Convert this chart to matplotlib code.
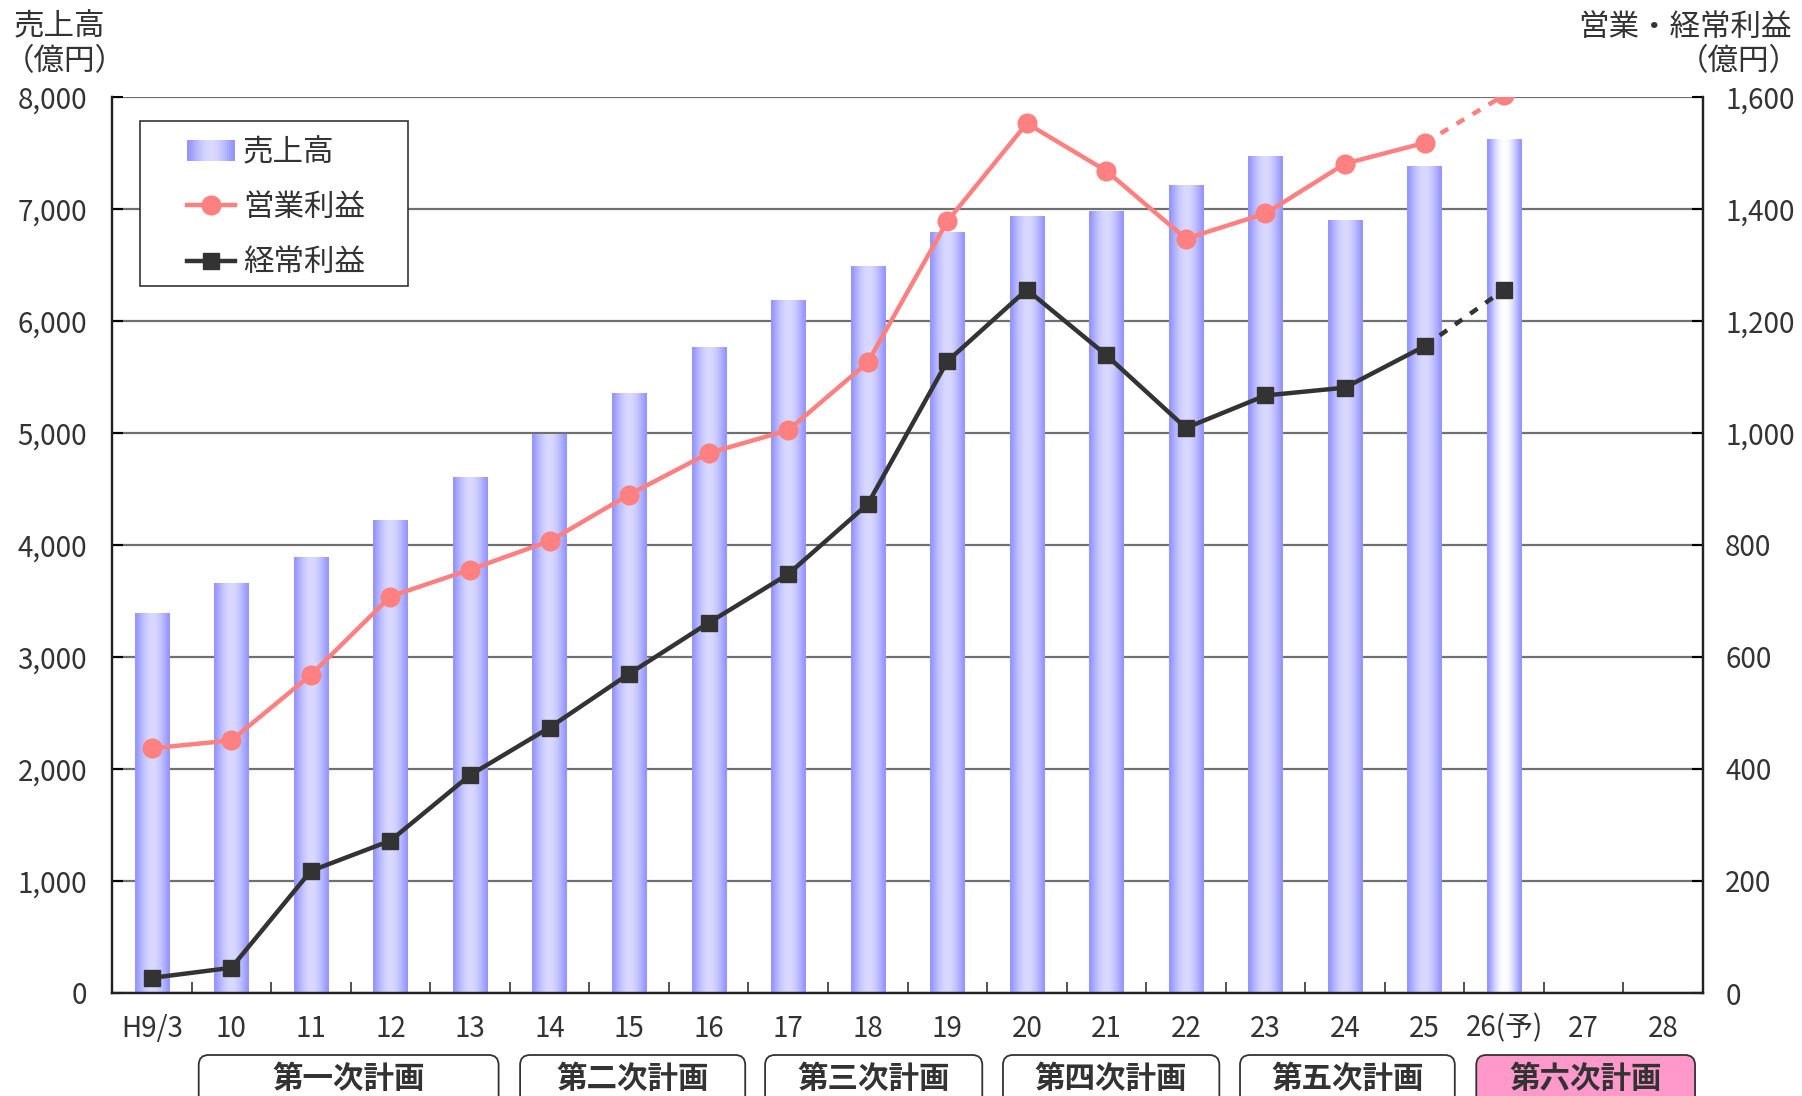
import matplotlib
matplotlib.use("Agg")
import matplotlib.pyplot as plt
import numpy as np
from matplotlib.patches import Rectangle, FancyBboxPatch, Patch
from matplotlib.lines import Line2D
from matplotlib.legend_handler import HandlerBase

plt.rcParams['font.family'] = ['Noto Sans CJK JP', 'DejaVu Sans']

years = ["H9/3", "10", "11", "12", "13", "14", "15", "16", "17", "18",
         "19", "20", "21", "22", "23", "24", "25", "26(予)", "27", "28"]
sales = [3390, 3660, 3890, 4220, 4600, 4990, 5350, 5760, 6180, 6490,
         6790, 6930, 6980, 7210, 7470, 6900, 7380, 7620]
op_profit = [437, 451, 568, 708, 756, 807, 890, 964, 1005, 1126,
             1378, 1553, 1468, 1347, 1392, 1481, 1518, 1603]
ord_profit = [27, 45, 218, 272, 389, 474, 570, 661, 748, 873,
              1128, 1256, 1139, 1009, 1067, 1081, 1155, 1256]
plans = ["第一次計画", "第二次計画", "第三次計画", "第四次計画", "第五次計画", "第六次計画"]
plan_spans = [(0.59, 4.36), (4.63, 7.46), (7.71, 10.44), (10.70, 13.42), (13.68, 16.38), (16.65, 19.40)]

W, H = 1802, 1096
fig = plt.figure(figsize=(W / 100, H / 100), dpi=100)
ax = fig.add_axes([112 / W, 1 - 993 / H, (1703 - 112) / W, (993 - 97) / H])
ax2 = ax.twinx()

txt = '#333333'
edge = np.array([150, 150, 255]) / 255
mid = np.array([217, 217, 255]) / 255
white = np.array([255, 255, 255]) / 255


def grad(center, n=64):
    t = np.linspace(0, 1, n)
    f = np.clip(np.sin(np.pi * (t - 0.03) / 0.94), 0, 1) ** 1.1
    return edge[None, :] + (center - edge)[None, :] * f[:, None]


bw = 0.43
for i, v in enumerate(sales):
    c = white if i == len(sales) - 1 else mid
    g = grad(c)[None, :, :]
    ax.imshow(g, extent=(i - bw / 2, i + bw / 2, 0, v), aspect='auto',
              interpolation='bilinear', zorder=2)

ax.set_xlim(-0.5, len(years) - 0.5)
ax.set_ylim(0, 8000)
ax2.set_ylim(0, 1600)
ax.set_yticks(np.arange(0, 8001, 1000))
ax.set_yticklabels([f"{v:,}" for v in range(0, 8001, 1000)])
ax2.set_yticks(np.arange(0, 1601, 200))
ax2.set_yticklabels([f"{v:,}" for v in range(0, 1601, 200)])
ax.set_xticks(range(len(years)))
ax.set_xticklabels(years)
ax.set_xticks(np.arange(0.5, len(years) - 1, 1), minor=True)
ax.tick_params(axis='x', which='major', length=0, pad=15, labelsize=20, labelcolor=txt)
ax.tick_params(axis='x', which='minor', direction='in', length=8, width=1.2, color='#333333')
ax.tick_params(axis='y', direction='in', length=8, width=1.5, pad=18, labelsize=20, labelcolor=txt)
ax2.tick_params(axis='y', direction='in', length=8, width=1.5, pad=16, labelsize=20, labelcolor=txt)
ax.grid(axis='y', color='#707070', linewidth=1.6)
ax.set_axisbelow(True)
for a in (ax, ax2):
    a.spines['top'].set_visible(False)
    for s in ('left', 'right', 'bottom'):
        a.spines[s].set_linewidth(1.6)
        a.spines[s].set_color('#222222')

x = np.arange(len(op_profit))
pink = '#ff8080'
dark = '#333333'
n = len(op_profit) - 1
ax2.plot(x[:n], op_profit[:n], color=pink, lw=3.2, marker='o', ms=13.5, zorder=3)
ax2.plot(x[n - 1:], op_profit[n - 1:], color=pink, lw=3.2, ls=(0, (2, 2.2)), zorder=3)
ax2.plot(x[n:], op_profit[n:], color=pink, marker='o', ms=13.5, ls='none', zorder=3)
ax2.plot(x[:n], ord_profit[:n], color=dark, lw=3.2, marker='s', ms=12, zorder=3)
ax2.plot(x[n - 1:], ord_profit[n - 1:], color=dark, lw=3.2, ls=(0, (2, 2.2)), zorder=3)
ax2.plot(x[n:], ord_profit[n:], color=dark, marker='s', ms=12, ls='none', zorder=3)


class GradHandler(HandlerBase):
    def create_artists(self, legend, orig_handle, xdescent, ydescent, width, height, fontsize, trans):
        cols = grad(mid, 24)
        arts = []
        for k, c in enumerate(cols):
            r = Rectangle((-xdescent + k * width / len(cols), -ydescent), width / len(cols) + 0.3, height,
                          facecolor=c, edgecolor='none', transform=trans)
            arts.append(r)
        return arts


# legend frame drawn separately so its padding can match the original
frame = Rectangle(((140 - 112) / 1591, (993 - 286) / 896), (408 - 140) / 1591, (286 - 121) / 896,
                  transform=ax2.transAxes, facecolor='white', edgecolor='#333333', lw=1.2, zorder=9)
ax2.add_patch(frame)

h_bar = Patch()
h_op = Line2D([], [], color=pink, lw=3.2, marker='o', ms=13.5)
h_ord = Line2D([], [], color=dark, lw=3.2, marker='s', ms=12)
leg = ax2.legend([h_bar, h_op, h_ord], ["売上高", "営業利益", "経常利益"],
                 handler_map={Patch: GradHandler()},
                 loc='upper left', bbox_to_anchor=((187 - 112) / 1591, (993 - 137) / 896),
                 borderaxespad=0, borderpad=0, frameon=False,
                 fontsize=22, handlelength=1.57, handletextpad=0.26, labelspacing=0.79)
for t in leg.get_texts():
    t.set_color(txt)
leg.set_zorder(10)

fig.text(14 / W, 1 - 27 / H, "売上高", fontsize=22, color=txt, ha='left', va='center')
fig.text(4 / W, 1 - 62 / H, "（億円）", fontsize=22, color=txt, ha='left', va='center')
fig.text(1792 / W, 1 - 27 / H, "営業・経常利益", fontsize=22, color=txt, ha='right', va='center')
fig.text(1800 / W, 1 - 62 / H, "（億円）", fontsize=22, color=txt, ha='right', va='center')

# plan boxes under the axis
fig.canvas.draw()
for name, (a, b) in zip(plans, plan_spans):
    px0 = ax.transData.transform((a, 0))[0]
    px1 = ax.transData.transform((b, 0))[0]
    fc = '#ff99cc' if name == "第六次計画" else 'white'
    box = FancyBboxPatch((px0 / 100, (H - 1115) / 100), (px1 - px0) / 100, 0.6,
                         boxstyle="round,pad=0,rounding_size=0.1",
                         transform=fig.dpi_scale_trans, facecolor=fc,
                         edgecolor='#333333', linewidth=1.3)
    fig.patches.append(box)
    fig.text((px0 + px1) / 2 / W, 1 - 1079 / H, name, fontsize=22, fontweight='bold',
             color=txt, ha='center', va='center')

fig.savefig("out.png", dpi=100, facecolor='white')
